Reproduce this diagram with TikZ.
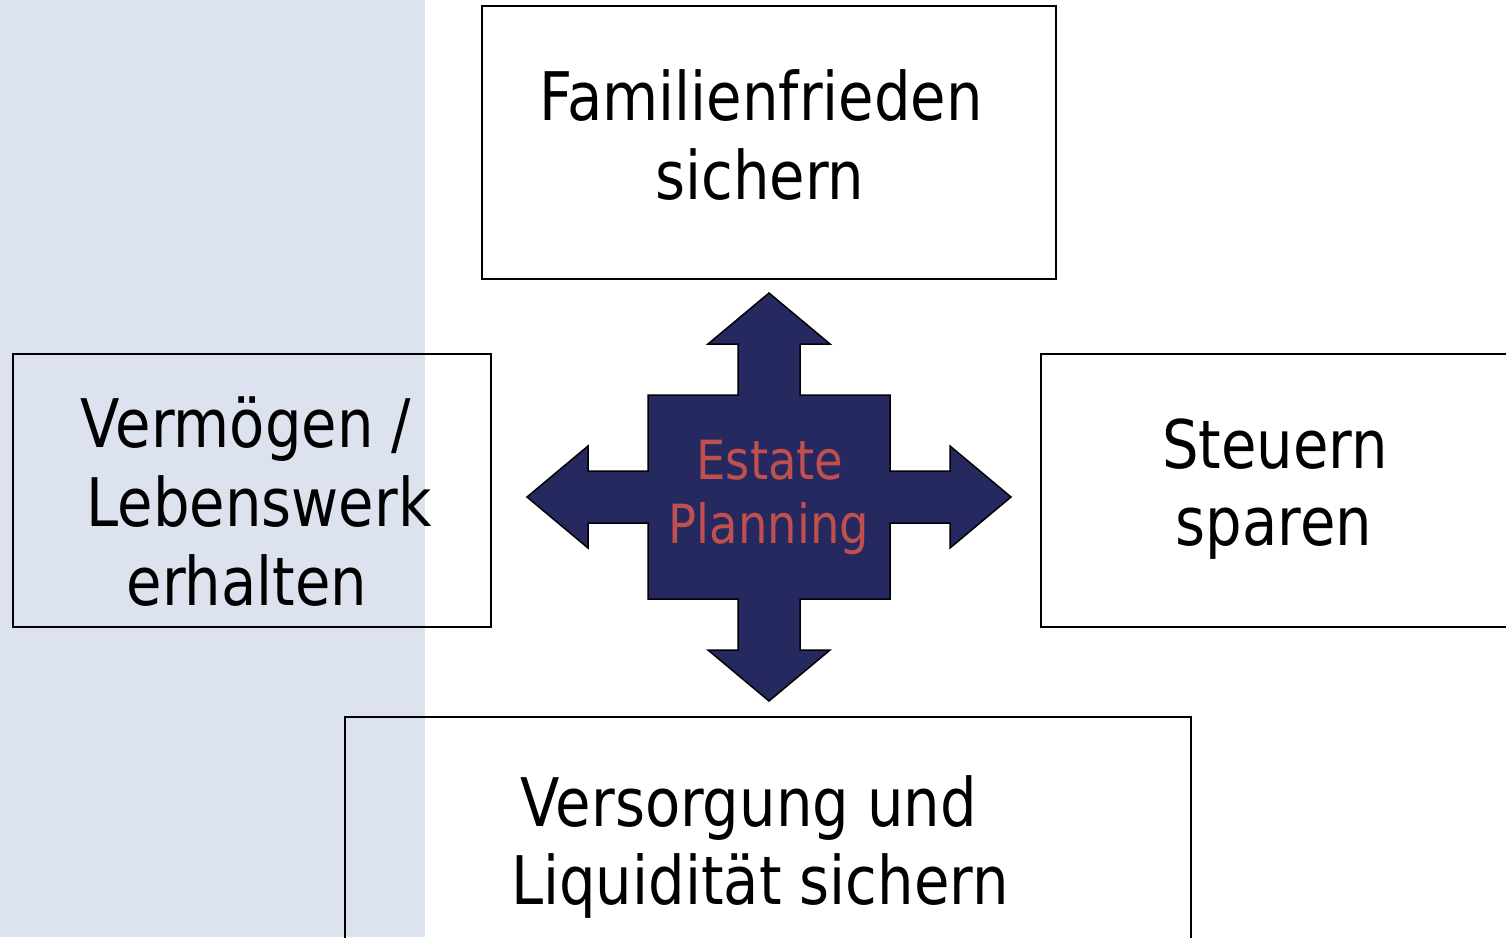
\documentclass[tikz,border=0pt]{standalone}
\usepackage{fontspec}
\setmainfont{DejaVu Sans}[FakeStretch=0.86]
\definecolor{band}{HTML}{DDE3EE}
\definecolor{navy}{HTML}{262960}
\definecolor{estred}{HTML}{C0504D}
\tikzset{
  box/.style={draw=black, line width=1.5pt, fill=none, inner sep=0pt},
  bigtxt/.style={inner sep=0pt, anchor=base, font=\fontsize{67}{79}\selectfont},
  ctrtxt/.style={inner sep=0pt, anchor=base, text=estred, font=\fontsize{54}{64}\selectfont},
  crossarrow/.style={fill=navy, draw=black, line width=1.5pt, line join=miter}
}
\begin{document}
\begin{tikzpicture}[x=1pt, y=-1pt]
\useasboundingbox (0,0) rectangle (1506,937);
% left band
\fill[band] (0,0) rectangle (425,937);
% boxes
\node[box, minimum width=574pt, minimum height=273pt] (top) at (769,142.5) {};
\node[box, minimum width=478pt, minimum height=273pt] (left) at (252,490.5) {};
\node[box, minimum width=474pt, minimum height=273pt] (right) at (1278,490.5) {};
\node[box, minimum width=846pt, minimum height=230pt] (bottom) at (768,832) {};
% texts
\node[bigtxt] (t1) at (761,120) {Familienfrieden};
\node[bigtxt] (t2) at (760,199) {sichern};
\node[bigtxt] (l1) at (246,447) {Vermögen /};
\node[bigtxt] (l2) at (259,526) {Lebenswerk};
\node[bigtxt] (l3) at (247,605) {erhalten};
\node[bigtxt] (r1) at (1275,468) {Steuern};
\node[bigtxt] (r2) at (1274,545) {sparen};
\node[bigtxt] (b1) at (749,826) {Versorgung und};
\node[bigtxt] (b2) at (760,904) {Liquidität sichern};
% central cross arrow
\draw[crossarrow] (769,293) -- (830,344) -- (800,344) -- (800,395) -- (890,395) -- (890,471)
  -- (950,471) -- (950,446) -- (1011,497) -- (950,548) -- (950,523) -- (890,523)
  -- (890,599) -- (800,599) -- (800,650) -- (830,650) -- (769,701) -- (708,650)
  -- (738,650) -- (738,599) -- (648,599) -- (648,523) -- (588,523) -- (588,548)
  -- (527,497) -- (588,446) -- (588,471) -- (648,471) -- (648,395) -- (738,395)
  -- (738,344) -- (708,344) -- cycle;
\node[ctrtxt] (e1) at (770,479) {Estate};
\node[ctrtxt] (e2) at (769,543) {Planning};
\end{tikzpicture}
\end{document}
